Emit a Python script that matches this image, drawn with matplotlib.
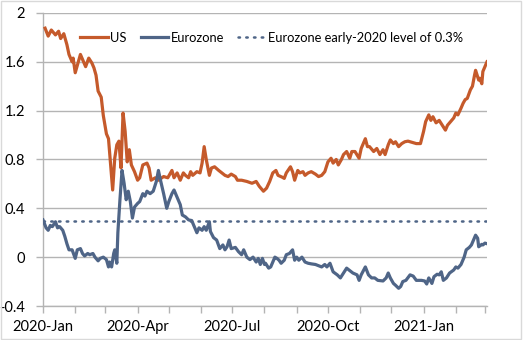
import matplotlib
matplotlib.use('Agg')
import matplotlib.pyplot as plt
import matplotlib.dates as mdates
from matplotlib import ticker
from matplotlib.patches import Rectangle
import pandas as pd

plt.rcParams['font.family'] = ['Lato', 'DejaVu Sans']

START = pd.Timestamp('2020-01-01')

# 10y breakeven-style series, days counted from 1 Jan 2020
us_days = [2, 5, 8, 12, 15, 17, 20, 23, 25, 28, 29, 31, 34, 36, 39, 41, 44, 47, 49, 51,
           53, 56, 58, 61, 63, 65, 67, 69, 71, 73, 75, 77, 79, 81, 83, 85, 88, 91, 93, 96,
           100, 102, 104, 108, 111, 116, 120, 124, 126, 129, 132, 135, 137, 140, 142, 144, 148, 151, 153, 155,
           157, 160, 162, 165, 169, 172, 175, 178, 181, 185, 187, 191, 196, 201, 205, 208, 212, 215, 218, 221,
           224, 226, 230, 232, 234, 238, 240, 242, 245, 247, 250, 252, 255, 258, 262, 265, 268, 271, 274, 277,
           279, 282, 284, 287, 289, 292, 295, 297, 300, 304, 306, 310, 312, 314, 318, 321, 324, 327, 329, 332,
           334, 337, 339, 342, 345, 348, 351, 355, 359, 363, 366, 368, 371, 373, 375, 378, 381, 384, 387, 389,
           392, 395, 397, 399, 402, 404, 406, 408, 411, 413, 415, 416, 419, 420, 422, 423, 425, 427]
us_vals = [1.875, 1.81, 1.86, 1.82, 1.85, 1.79, 1.83, 1.74, 1.66, 1.60, 1.63, 1.51, 1.60, 1.66, 1.60, 1.56, 1.63, 1.59, 1.55, 1.49,
           1.36, 1.31, 1.16, 1.01, 0.97, 0.755, 0.55, 0.81, 0.92, 0.95, 0.73, 1.18, 1.03, 0.78, 0.88, 0.755, 0.70, 0.63, 0.65, 0.755,
           0.77, 0.73, 0.63, 0.65, 0.63, 0.66, 0.65, 0.71, 0.65, 0.69, 0.63, 0.69, 0.67, 0.65, 0.70, 0.67, 0.70, 0.69, 0.77, 0.905,
           0.80, 0.67, 0.73, 0.74, 0.71, 0.69, 0.67, 0.66, 0.68, 0.66, 0.63, 0.63, 0.62, 0.605, 0.62, 0.58, 0.54, 0.565, 0.62, 0.69,
           0.71, 0.67, 0.655, 0.645, 0.69, 0.74, 0.70, 0.63, 0.71, 0.69, 0.70, 0.67, 0.69, 0.70, 0.68, 0.66, 0.67, 0.70, 0.78, 0.81,
           0.77, 0.80, 0.755, 0.80, 0.84, 0.865, 0.81, 0.865, 0.865, 0.81, 0.89, 0.97, 0.905, 0.905, 0.865, 0.89, 0.84, 0.88, 0.84, 0.92,
           0.96, 0.93, 0.945, 0.905, 0.93, 0.945, 0.95, 0.94, 0.93, 0.93, 1.03, 1.11, 1.165, 1.12, 1.15, 1.10, 1.12, 1.08, 1.04, 1.08,
           1.11, 1.14, 1.18, 1.165, 1.22, 1.26, 1.29, 1.30, 1.37, 1.40, 1.49, 1.53, 1.45, 1.465, 1.42, 1.52, 1.56, 1.60]

ez_days = [0, 3, 5, 7, 9, 12, 14, 16, 19, 21, 23, 25, 28, 31, 33, 36, 38, 40, 43, 45,
           48, 50, 53, 55, 58, 61, 63, 64, 66, 68, 69, 71, 72, 74, 76, 78, 80, 82, 84, 86,
           88, 91, 93, 96, 98, 100, 103, 106, 109, 111, 113, 116, 119, 121, 124, 126, 128, 130, 132, 134,
           137, 140, 143, 145, 148, 150, 153, 155, 157, 160, 161, 164, 167, 170, 173, 175, 177, 179, 181, 185,
           188, 191, 193, 196, 199, 202, 205, 207, 209, 211, 213, 214, 217, 219, 221, 223, 225, 227, 229, 232,
           234, 237, 240, 242, 244, 246, 249, 252, 255, 258, 262, 265, 268, 271, 273, 276, 279, 283, 286, 289,
           292, 295, 298, 302, 304, 306, 310, 313, 316, 319, 322, 327, 330, 332, 334, 337, 339, 342, 344, 346,
           349, 353, 356, 359, 364, 367, 369, 371, 374, 376, 379, 381, 383, 385, 388, 391, 395, 397, 399, 402,
           405, 407, 410, 412, 414, 416, 418, 419, 422, 423, 425, 427]
ez_vals = [0.305, 0.24, 0.22, 0.26, 0.25, 0.29, 0.24, 0.25, 0.22, 0.17, 0.11, 0.06, 0.06, -0.01, 0.06, 0.07, 0.03, 0.01, 0.03, 0.02,
           0.03, 0.0, -0.03, -0.01, 0.0, -0.02, -0.08, -0.04, -0.08, 0.03, 0.06, -0.05, 0.20, 0.47, 0.71, 0.605, 0.47, 0.54, 0.455, 0.32,
           0.41, 0.44, 0.455, 0.52, 0.50, 0.54, 0.52, 0.54, 0.62, 0.71, 0.63, 0.52, 0.40, 0.455, 0.52, 0.55, 0.51, 0.47, 0.43, 0.345,
           0.33, 0.305, 0.30, 0.26, 0.20, 0.24, 0.22, 0.25, 0.22, 0.29, 0.21, 0.16, 0.14, 0.07, 0.10, 0.06, 0.085, 0.14, 0.07, 0.08,
           0.045, 0.02, 0.06, 0.0, -0.02, 0.0, -0.04, -0.01, -0.06, -0.01, -0.06, -0.05, -0.09, -0.08, -0.04, 0.0, -0.01, -0.025, -0.05, -0.025,
           0.02, 0.03, 0.06, -0.025, 0.0, -0.025, 0.0, -0.04, -0.05, -0.055, -0.06, -0.07, -0.08, -0.06, -0.08, -0.05, -0.12, -0.145, -0.17, -0.13,
           -0.09, -0.11, -0.13, -0.145, -0.19, -0.145, -0.08, -0.145, -0.17, -0.17, -0.19, -0.195, -0.17, -0.13, -0.17, -0.215, -0.23, -0.255, -0.24, -0.20,
           -0.19, -0.145, -0.155, -0.19, -0.19, -0.195, -0.22, -0.17, -0.215, -0.16, -0.14, -0.145, -0.12, -0.19, -0.17, -0.13, -0.105, -0.08, -0.09, -0.06,
           0.0, 0.06, 0.08, 0.10, 0.14, 0.18, 0.155, 0.085, 0.105, 0.10, 0.115, 0.11]

ez_early_2020 = 0.3

us_dates = START + pd.to_timedelta(us_days, unit='D')
ez_dates = START + pd.to_timedelta(ez_days, unit='D')

US_COLOR = '#C55A2B'
EZ_COLOR = '#4F6587'
GRID = '#B4B4B4'

fig = plt.figure(figsize=(5.23, 3.40), dpi=100)
ax = fig.add_axes([0.0822, 0.1, 0.849, 0.862])

ax.plot(us_dates, us_vals, color=US_COLOR, lw=2.3, label='US', zorder=3)
ax.plot(ez_dates, ez_vals, color=EZ_COLOR, lw=2.3, label='Eurozone', zorder=3)
ax.axhline(ez_early_2020, color=EZ_COLOR, lw=1.8, ls=(0, (0.6, 2.5)), dash_capstyle='round',
           label='Eurozone early-2020 level of 0.3%', zorder=2)

ax.set_xlim(START, START + pd.Timedelta(days=427))
ax.set_ylim(-0.4, 2)
ax.yaxis.set_major_locator(ticker.MultipleLocator(0.4))
ax.yaxis.set_major_formatter(ticker.FuncFormatter(lambda v, p: f'{v:g}' if abs(v) > 1e-9 else '0'))
ax.grid(axis='y', color=GRID, lw=1)
ax.set_axisbelow(True)


def month_label(x, pos):
    d = mdates.num2date(x)
    if d.month in (1, 4, 7, 10):
        return d.strftime('%Y-%b')
    return ''


ax.xaxis.set_major_locator(mdates.MonthLocator())
ax.xaxis.set_major_formatter(ticker.FuncFormatter(month_label))

for s in ['top', 'right']:
    ax.spines[s].set_visible(False)
for s in ['left', 'bottom']:
    ax.spines[s].set_color(GRID)
    ax.spines[s].set_linewidth(1)
ax.tick_params(axis='both', colors=GRID, labelcolor='black', labelsize=10.5, length=5, width=1)
ax.tick_params(axis='y', pad=8)
ax.tick_params(axis='x', pad=5)

ax.legend(loc='center', bbox_to_anchor=(0.515, 0.915), ncol=3, frameon=False, fontsize=9.3,
          handlelength=2.1, handletextpad=0.2, columnspacing=1.1)

# thin frame round the whole chart
fig.patches.append(Rectangle((0.002, 0.003), 0.994, 0.994, transform=fig.transFigure,
                             fill=False, edgecolor='#D9D9D9', lw=1))

fig.savefig('out.png', dpi=100)
